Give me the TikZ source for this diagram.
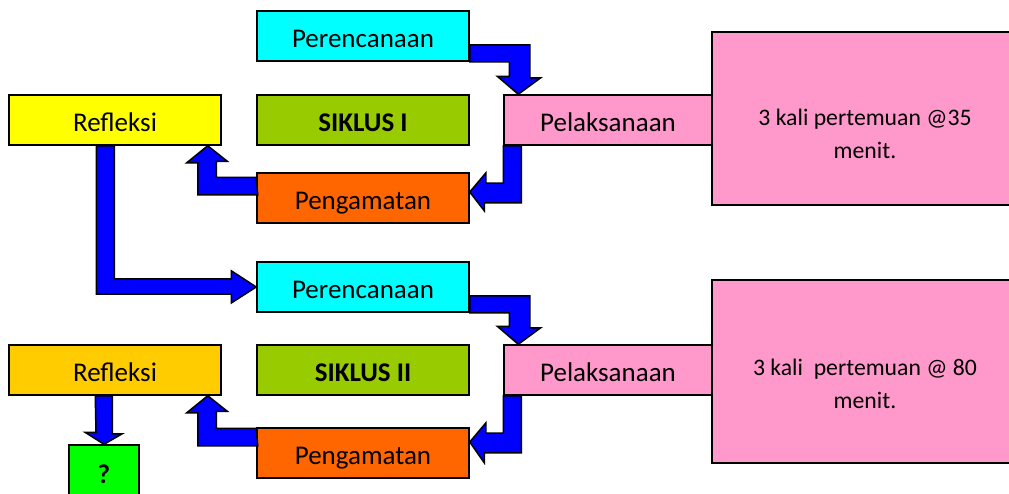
\documentclass[tikz,border=0pt]{standalone}
\usepackage{fontspec}
\setmainfont{Carlito}
\usetikzlibrary{calc}
\definecolor{biru}{HTML}{0000FF}
\definecolor{tosca}{HTML}{00FFFF}
\definecolor{kuning}{HTML}{FFFF00}
\definecolor{emas}{HTML}{FFCC00}
\definecolor{hijau}{HTML}{99CC00}
\definecolor{hijaumuda}{HTML}{00FF00}
\definecolor{jingga}{HTML}{FF6600}
\definecolor{merahmuda}{HTML}{FF99CC}

\begin{document}
\begin{tikzpicture}[x=1pt, y=-1pt, line width=1.5pt]
    \tikzstyle{kotak}=[draw, rectangle, inner sep=0pt, minimum width=212pt, minimum height=50pt, font=\fontsize{27}{32}\selectfont, text height=23pt, text depth=0pt]
    \tikzstyle{waktu}=[draw, rectangle, fill=merahmuda, inner sep=0pt, minimum width=320pt]
    \tikzstyle{ket}=[font=\fontsize{23.7}{33}\selectfont, align=center, xshift=-7pt]
    \tikzstyle{panah}=[draw, fill=biru]
    \useasboundingbox (0,0) rectangle (1009,493);
    \clip (0,0) rectangle (1009,493);
    \node [waktu, minimum height=173pt, label={[ket, yshift=-15pt]center:3 kali pertemuan @35\\menit.}] (waktu1) at (872,118.5) {};
    \node [waktu, minimum height=183pt, label={[ket, yshift=-12pt]center:3 kali~ pertemuan @ 80\\menit.}] (waktu2) at (872,371.5) {};
    \node [kotak, fill=tosca] (per1) at (363,36) {Perencanaan};
    \node [kotak, fill=kuning] (ref1) at (115,120) {Refleksi};
    \node [kotak, fill=hijau, font=\fontsize{27}{32}\selectfont\bfseries] (sik1) at (363,120) {SIKLUS I};
    \node [kotak, fill=merahmuda, minimum width=208pt] (pel1) at (608,120) {Pelaksanaan};
    \node [kotak, fill=jingga] (pen1) at (363,198) {Pengamatan};
    \node [kotak, fill=tosca] (per2) at (363,287) {Perencanaan};
    \node [kotak, fill=emas] (ref2) at (115,370) {Refleksi};
    \node [kotak, fill=hijau, font=\fontsize{27}{32}\selectfont\bfseries] (sik2) at (363,370) {SIKLUS II};
    \node [kotak, fill=merahmuda, minimum width=208pt] (pel2) at (608,370) {Pelaksanaan};
    \node [kotak, fill=jingga] (pen2) at (363,453) {Pengamatan};
    \node [kotak, fill=hijaumuda, minimum width=70pt, minimum height=60pt, text height=16pt, font=\fontsize{27}{32}\selectfont\bfseries] (tanya) at (104,475) {?};
    \draw[panah] (per1.south east) -- ++(0,-17) -- ++(60,0) -- ++(0,33) -- ++(11,0) -- ($(pel1.north west)+(15,0)$) -- ++(-21,-18) -- ++(12,0) |- (per1.south east) -- cycle;
    \draw[panah] (pel1.south west) -- ++(18,0) -- ++(0,57) -- ++(-37,0) -- ++(0,8) -- ($(pen1.east)+(0,-6)$) -- ++(16,-19) -- ++(0,10) -| (pel1.south west) -- cycle;
    \draw[panah] ($(pen1.north west)+(0,5)$) -- ++(-40,0) -- ++(0,-16) -- ++(11,0) -- ($(ref1.south east)+(-14,0)$) -- ++(-21,17) -- ++(11,0) -- ++(0,32) -- ++(60,0) -- cycle;
    \draw[panah] ($(ref1.south west)+(88,0)$) -- ++(18,0) -- ++(0,133) -- ++(117,0) -- ++(0,-8) -- (per2.west) -- ++(-25,16) -- ++(0,-9) -| ($(ref1.south west)+(88,0)$) -- cycle;
    \draw[panah] (per2.south east) -- ++(0,-17) -- ++(60,0) -- ++(0,32) -- ++(11,0) -- ($(pel2.north west)+(15,0)$) -- ++(-21,-18) -- ++(12,0) |- (per2.south east) -- cycle;
    \draw[panah] (pel2.south west) -- ++(18,0) -- ++(0,57) -- ++(-37,0) -- ++(0,10) -- ($(pen2.east)+(0,-11)$) -- ++(16,-19) -- ++(0,10) -| (pel2.south west) -- cycle;
    \draw[panah] ($(pen2.north west)+(0,1)$) -- ++(-40,0) -- ++(0,-17) -- ++(11,0) -- ($(ref2.south east)+(-14,0)$) -- ++(-21,17) -- ++(11,0) -- ++(0,33) -- ++(60,0) -- cycle;
    \draw[panah] ($(ref2.south west)+(87,0)$) -- ++(17,0) -- ++(0,38) -- ++(10,0) -- (tanya.north) -- ++(-19,-12) -- ++(11,0) -- cycle;
\end{tikzpicture}
\end{document}
